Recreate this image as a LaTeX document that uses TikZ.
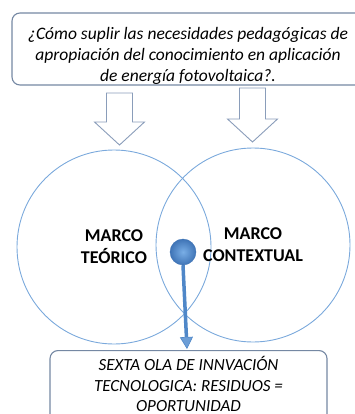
\documentclass[tikz,border=0pt]{standalone}
\usepackage{fontspec}
\setmainfont{Carlito}
\usetikzlibrary{arrows.meta, positioning, shadings}
\definecolor{box-line}{HTML}{7588A3}
\definecolor{ring}{HTML}{7BA9DC}
\definecolor{block}{HTML}{8A9DBA}
\definecolor{stick}{HTML}{4F87C8}
\definecolor{stick-tip}{HTML}{6D9ED6}
\definecolor{knob-in}{HTML}{79AEE6}
\definecolor{knob-out}{HTML}{3F74B6}
\tikzset{
  qbox/.style={
    draw=box-line, fill=white, line width=1.1pt, rounded corners=8pt,
    align=center, font=\fontsize{17.5}{21}\selectfont\itshape
  },
  frame/.style={
    draw=ring, line width=0.9pt, circle, minimum size=194pt,
    align=center, font=\fontsize{18}{22}\selectfont\bfseries
  },
  downarrow/.style={draw=block, line width=0.9pt, fill=white, line join=miter}
}

\begin{document}
\begin{tikzpicture}[x=1pt, y=-1pt]
  \useasboundingbox (0,0) rectangle (355,414);

  % ---- Guiding question, top ------------------------------------------------
  \node[qbox, minimum width=353pt, minimum height=72pt] (q) at (188.5,49)
    {};
  \node[font=\fontsize{17.5}{21}\selectfont\itshape, align=center] (qtext)
    at (188,56)
    {¿Cómo suplir las necesidades pedagógicas de\\
     apropiación del conocimiento en aplicación\\
     de energía fotovoltaica?.};

  % ---- Block arrows into the two frames -----------------------------------
  \foreach \ax/\atop/\atip in {119.5/93/145, 252.5/88/142} {
    \draw[downarrow] (\ax-13,\atop) -- (\ax+13,\atop) -- (\ax+13,\atip-23)
      -- (\ax+25,\atip-23) -- (\ax,\atip) -- (\ax-25,\atip-23)
      -- (\ax-13,\atip-23) -- cycle;
  }

  % ---- The two frames -------------------------------------------------------
  \node[frame] (theo) at (114,247) {MARCO\\TEÓRICO};
  \node[frame] (cont) at (253,245) {MARCO\\CONTEXTUAL};

  % ---- Outcome, bottom ------------------------------------------------------
  \node[qbox, minimum width=277pt, minimum height=80pt, anchor=north] (ans)
    at (188.5,350) {};
  \node[font=\fontsize{17}{20.5}\selectfont\itshape, align=center,
    inner sep=0pt] (anstext)
    at (188.5,384) {SEXTA OLA DE INNVACIÓN\\
      TECNOLOGICA: RESIDUOS =\\
      OPORTUNIDAD};

  % ---- Pin from the overlap down to the outcome ---------------------------
  \coordinate (tip) at (187,349);
  \node[circle, minimum size=26pt, inner sep=0pt] (ball) at (183,252) {};
  \draw[stick, line width=3.5pt,
    -{Triangle[width=13pt, length=12pt, fill=stick-tip, line width=0.6pt]}]
    (ball.south) -- (tip);
  \node[circle, minimum size=26pt, inner sep=0pt, draw=knob-out,
    inner color=knob-in, outer color=knob-out] (knob) at (ball) {};

\end{tikzpicture}
\end{document}
